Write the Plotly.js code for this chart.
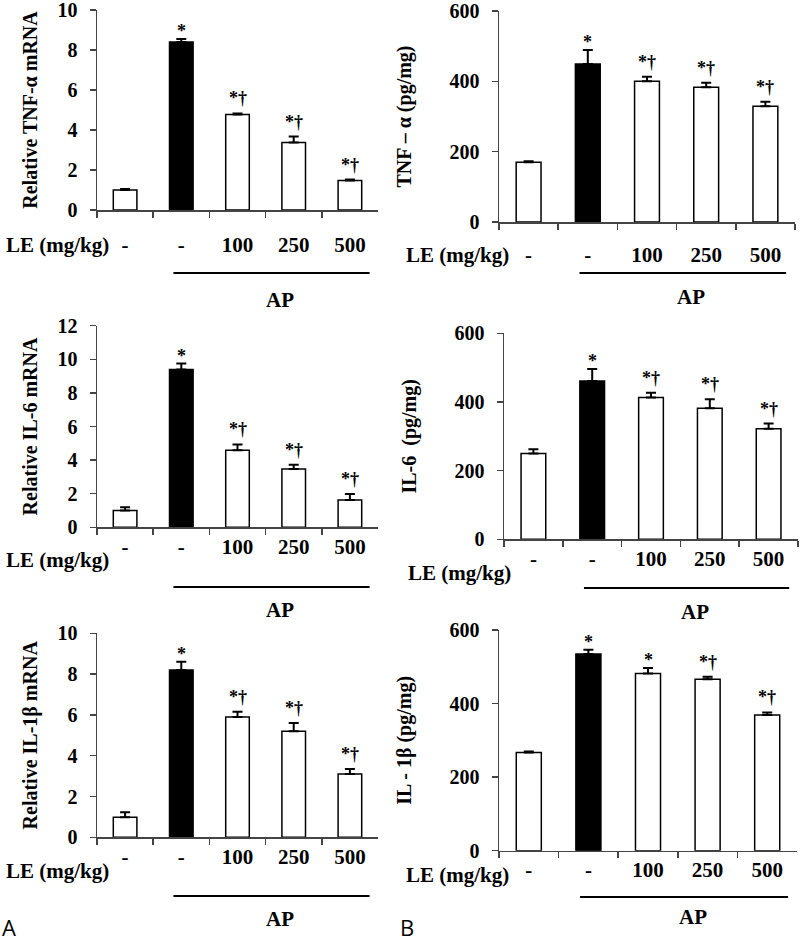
<!DOCTYPE html>
<html>
<head>
<meta charset="utf-8">
<script src="https://cdn.plot.ly/plotly-3.0.1.min.js"></script>
<style>html,body{margin:0;padding:0;background:#fff;}#chart{width:800px;height:945px;}</style>
</head>
<body>
<div id="chart"></div>
<script>
// ---- data ----
const categories = ['Control', 'AP', 'AP+LE100', 'AP+LE250', 'AP+LE500'];
const leLabels = ['-', '-', '100', '250', '500'];
const barColors = ['white', 'black', 'white', 'white', 'white'];

const tnfMrna = [1.0, 8.4, 4.78, 3.37, 1.47];
const tnfMrnaErr = [0.05, 0.15, 0.05, 0.3, 0.05];
const tnfMrnaSig = ['', '*', '*†', '*†', '*†'];

const tnfProt = [170, 449, 400, 383, 329];
const tnfProtErr = [3, 40, 13, 13, 13];
const tnfProtSig = ['', '*', '*†', '*†', '*†'];

const il6Mrna = [1.0, 9.4, 4.58, 3.47, 1.63];
const il6MrnaErr = [0.2, 0.35, 0.35, 0.25, 0.35];
const il6MrnaSig = ['', '*', '*†', '*†', '*†'];

const il6Prot = [250, 461, 413, 382, 322];
const il6ProtErr = [12, 35, 14, 26, 15];
const il6ProtSig = ['', '*', '*†', '*†', '*†'];

const il1bMrna = [0.98, 8.2, 5.9, 5.2, 3.1];
const il1bMrnaErr = [0.25, 0.4, 0.25, 0.4, 0.25];
const il1bMrnaSig = ['', '*', '*†', '*†', '*†'];

const il1bProt = [267, 535, 482, 466, 369];
const il1bProtErr = [3, 11, 15, 7, 7];
const il1bProtSig = ['', '*', '*', '*†', '*†'];

const yTitles = ['Relative TNF-α mRNA', 'TNF – α (pg/mg)', 'Relative IL-6 mRNA', 'IL-6  (pg/mg)', 'Relative IL-1β mRNA', 'IL - 1β (pg/mg)'];
const groupLabel = 'AP';
const rowLabel = 'LE (mg/kg)';
const panelLetters = ['A', 'B'];

// ---- panel layout config (pixels) ----
const W = 800, H = 945;
const panels = [
  {vals: tnfMrna, errs: tnfMrnaErr, sig: tnfMrnaSig, yr: [0, 10], dtick: 2, px: [97, 378], py: [10, 210], row: 245, line: 273, ap: 300, le: 58, tstand: 14},
  {vals: tnfProt, errs: tnfProtErr, sig: tnfProtSig, yr: [0, 600], dtick: 200, px: [499, 795], py: [11, 222], row: 255, line: 273, ap: 297, le: 457, tstand: 32},
  {vals: il6Mrna, errs: il6MrnaErr, sig: il6MrnaSig, yr: [0, 12], dtick: 2, px: [97, 378], py: [325.7, 527.3], row: 560, line: 587, ap: 610, le: 58, tstand: 14},
  {vals: il6Prot, errs: il6ProtErr, sig: il6ProtSig, yr: [0, 600], dtick: 200, px: [504, 798], py: [333.3, 539.3], row: 573, line: 588, ap: 612, le: 459, tstand: 32},
  {vals: il1bMrna, errs: il1bMrnaErr, sig: il1bMrnaSig, yr: [0, 10], dtick: 2, px: [97, 378], py: [633.3, 837.3], row: 871, line: 896, ap: 919, le: 58, tstand: 14},
  {vals: il1bProt, errs: il1bProtErr, sig: il1bProtSig, yr: [0, 600], dtick: 200, px: [499, 797], py: [630, 850.7], row: 875, line: 897, ap: 917, le: 457, tstand: 32}
];

const serif = 'Liberation Serif';
const boldFont = (size) => ({family: serif, size: size, color: 'black', weight: 700});
const axisColor = '#444';

const data = [];
const layout = {
  width: W, height: H,
  margin: {l: 0, r: 0, t: 0, b: 0},
  showlegend: false,
  paper_bgcolor: 'white', plot_bgcolor: 'white',
  font: boldFont(21),
  annotations: [], shapes: []
};

panels.forEach((p, i) => {
  const s = i === 0 ? '' : String(i + 1);
  const xd = [p.px[0] / W, p.px[1] / W];
  const yd = [1 - p.py[1] / H, 1 - p.py[0] / H];
  layout['xaxis' + s] = {
    domain: xd, anchor: 'y' + s, type: 'category', range: [-0.5, 4.5],
    tickvals: categories, ticktext: leLabels, tickson: 'boundaries',
    ticks: 'outside', ticklen: 6, tickwidth: 1.5, tickcolor: axisColor,
    showline: true, linecolor: axisColor, linewidth: 1.5,
    showgrid: false, zeroline: false, fixedrange: true,
    tickfont: boldFont(21), ticklabelstandoff: (p.row - p.py[1]) - 20,
    ticklabeloverflow: 'allow'
  };
  layout['yaxis' + s] = {
    domain: yd, anchor: 'x' + s, range: p.yr, tick0: 0, dtick: p.dtick,
    ticks: 'outside', ticklen: 6, tickwidth: 1.5, tickcolor: axisColor,
    showline: true, linecolor: axisColor, linewidth: 1.5,
    showgrid: false, zeroline: false, fixedrange: true,
    tickfont: boldFont(20), ticklabelstandoff: 8, ticklabeloverflow: 'allow',
    title: {text: yTitles[i], font: boldFont(20), standoff: p.tstand}
  };
  data.push({
    type: 'bar', x: categories, y: p.vals,
    xaxis: 'x' + s, yaxis: 'y' + s, width: 0.42,
    marker: {color: barColors, line: {color: 'black', width: 1.5}},
    error_y: {type: 'data', symmetric: false, array: p.errs, arrayminus: p.errs.map(() => 0),
              color: 'black', thickness: 2, width: 5},
    hoverinfo: 'skip'
  });
  p.sig.forEach((t, k) => {
    if (!t) return;
    layout.annotations.push({
      xref: 'x' + s, yref: 'y' + s, x: categories[k], y: p.vals[k] + p.errs[k],
      text: t, showarrow: false, yanchor: 'bottom', yshift: t.length > 1 ? 3 : -4, font: boldFont(18)
    });
  });
  layout.annotations.push({
    xref: 'paper', yref: 'paper', x: p.le / W, y: 1 - p.row / H,
    xanchor: 'center', yanchor: 'middle', text: rowLabel, showarrow: false, font: boldFont(21)
  });
  layout.shapes.push({
    type: 'line', xref: 'x' + s, yref: 'paper', x0: 0.86, x1: 4.35,
    y0: 1 - p.line / H, y1: 1 - p.line / H, line: {color: 'black', width: 2}
  });
  layout.annotations.push({
    xref: 'x' + s, yref: 'paper', x: 2.75, y: 1 - p.ap / H,
    xanchor: 'center', yanchor: 'middle', text: groupLabel, showarrow: false, font: boldFont(21)
  });
});

const letterFont = {family: 'Open Sans, DejaVu Sans, sans-serif', size: 22, color: 'black', weight: 400};
layout.annotations.push({xref: 'paper', yref: 'paper', x: 0 / W, y: 1 - 927 / H, xanchor: 'left', yanchor: 'middle',
  text: panelLetters[0], showarrow: false, font: letterFont});
layout.annotations.push({xref: 'paper', yref: 'paper', x: 398 / W, y: 1 - 927 / H, xanchor: 'left', yanchor: 'middle',
  text: panelLetters[1], showarrow: false, font: letterFont});

Plotly.newPlot('chart', data, layout, {staticPlot: true, displayModeBar: false});
</script>
</body>
</html>
